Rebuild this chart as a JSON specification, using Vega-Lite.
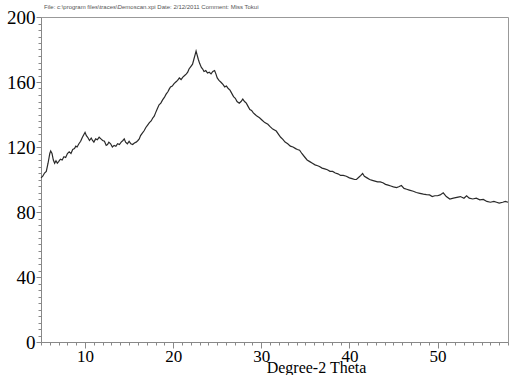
{
  "$schema": "https://vega.github.io/schema/vega-lite/v6.json",
  "width": 467,
  "height": 325,
  "autosize": {"type": "none"},
  "padding": {"left": 41, "top": 17, "right": 2, "bottom": 33},
  "background": "white",
  "title": {
    "text": "File: c:\\program files\\traces\\Demoscan.xpi   Date: 2/12/2011   Comment: Miss Tokui",
    "anchor": "start",
    "frame": "group",
    "font": "Liberation Sans",
    "fontSize": 6,
    "fontWeight": "normal",
    "color": "#555555",
    "offset": 5,
    "dx": 3,
    "dy": 7
  },
  "config": {"view": {"stroke": "#999999", "strokeWidth": 1}},
  "data": {
    "values": [
      {"theta": 5.0, "counts": 101}, {"theta": 5.2, "counts": 102}, {"theta": 5.4, "counts": 104}, {"theta": 5.6, "counts": 105},
      {"theta": 5.8, "counts": 110}, {"theta": 6.0, "counts": 116}, {"theta": 6.1, "counts": 117.5}, {"theta": 6.25, "counts": 116},
      {"theta": 6.4, "counts": 112}, {"theta": 6.55, "counts": 110}, {"theta": 6.7, "counts": 111.5}, {"theta": 6.85, "counts": 110},
      {"theta": 7.0, "counts": 111}, {"theta": 7.2, "counts": 112.5}, {"theta": 7.4, "counts": 112}, {"theta": 7.6, "counts": 114},
      {"theta": 7.8, "counts": 113.5}, {"theta": 8.0, "counts": 116}, {"theta": 8.2, "counts": 117}, {"theta": 8.4, "counts": 116},
      {"theta": 8.6, "counts": 118.5}, {"theta": 8.8, "counts": 119}, {"theta": 8.95, "counts": 120.5}, {"theta": 9.1, "counts": 120},
      {"theta": 9.3, "counts": 122}, {"theta": 9.5, "counts": 123.5}, {"theta": 9.7, "counts": 126}, {"theta": 9.9, "counts": 128},
      {"theta": 10.0, "counts": 129}, {"theta": 10.15, "counts": 127}, {"theta": 10.3, "counts": 126}, {"theta": 10.5, "counts": 124},
      {"theta": 10.7, "counts": 125.5}, {"theta": 10.85, "counts": 124}, {"theta": 11.0, "counts": 123}, {"theta": 11.2, "counts": 125},
      {"theta": 11.4, "counts": 124.5}, {"theta": 11.6, "counts": 126}, {"theta": 11.8, "counts": 125}, {"theta": 12.0, "counts": 124},
      {"theta": 12.2, "counts": 123.5}, {"theta": 12.4, "counts": 121}, {"theta": 12.55, "counts": 121.5}, {"theta": 12.7, "counts": 123},
      {"theta": 12.9, "counts": 122}, {"theta": 13.1, "counts": 120}, {"theta": 13.3, "counts": 121}, {"theta": 13.5, "counts": 120.5},
      {"theta": 13.7, "counts": 122}, {"theta": 13.9, "counts": 121.5}, {"theta": 14.1, "counts": 123}, {"theta": 14.3, "counts": 124},
      {"theta": 14.45, "counts": 125}, {"theta": 14.6, "counts": 123}, {"theta": 14.8, "counts": 122}, {"theta": 15.0, "counts": 123.5},
      {"theta": 15.2, "counts": 122}, {"theta": 15.4, "counts": 121.5}, {"theta": 15.6, "counts": 122.5}, {"theta": 15.8, "counts": 123},
      {"theta": 16.0, "counts": 124}, {"theta": 16.15, "counts": 125}, {"theta": 16.3, "counts": 127}, {"theta": 16.5, "counts": 128.5},
      {"theta": 16.7, "counts": 130}, {"theta": 16.9, "counts": 132}, {"theta": 17.1, "counts": 133.5}, {"theta": 17.3, "counts": 135},
      {"theta": 17.5, "counts": 136}, {"theta": 17.7, "counts": 138}, {"theta": 17.85, "counts": 139}, {"theta": 18.0, "counts": 141},
      {"theta": 18.2, "counts": 143.5}, {"theta": 18.4, "counts": 146}, {"theta": 18.6, "counts": 147}, {"theta": 18.8, "counts": 149},
      {"theta": 19.0, "counts": 150.5}, {"theta": 19.2, "counts": 152.5}, {"theta": 19.4, "counts": 154}, {"theta": 19.55, "counts": 155.6},
      {"theta": 19.7, "counts": 157}, {"theta": 19.9, "counts": 157.5}, {"theta": 20.1, "counts": 159}, {"theta": 20.3, "counts": 160},
      {"theta": 20.5, "counts": 161}, {"theta": 20.7, "counts": 162.5}, {"theta": 20.9, "counts": 161.5}, {"theta": 21.1, "counts": 163},
      {"theta": 21.3, "counts": 164}, {"theta": 21.5, "counts": 165}, {"theta": 21.65, "counts": 166}, {"theta": 21.8, "counts": 168},
      {"theta": 22.0, "counts": 169.5}, {"theta": 22.2, "counts": 171}, {"theta": 22.35, "counts": 174}, {"theta": 22.5, "counts": 177},
      {"theta": 22.6, "counts": 179}, {"theta": 22.7, "counts": 177}, {"theta": 22.85, "counts": 174}, {"theta": 23.0, "counts": 171.5},
      {"theta": 23.2, "counts": 169}, {"theta": 23.35, "counts": 168}, {"theta": 23.5, "counts": 166.5}, {"theta": 23.7, "counts": 167},
      {"theta": 23.9, "counts": 165.5}, {"theta": 24.1, "counts": 166}, {"theta": 24.3, "counts": 165}, {"theta": 24.5, "counts": 166.5},
      {"theta": 24.7, "counts": 167}, {"theta": 24.85, "counts": 165}, {"theta": 25.0, "counts": 162.5}, {"theta": 25.2, "counts": 161},
      {"theta": 25.45, "counts": 159.7}, {"theta": 25.65, "counts": 158.5}, {"theta": 25.85, "counts": 157}, {"theta": 26.05, "counts": 157.5},
      {"theta": 26.25, "counts": 156}, {"theta": 26.45, "counts": 155}, {"theta": 26.65, "counts": 153}, {"theta": 26.85, "counts": 151},
      {"theta": 27.05, "counts": 150}, {"theta": 27.25, "counts": 148}, {"theta": 27.5, "counts": 147}, {"theta": 27.7, "counts": 148},
      {"theta": 27.9, "counts": 149.5}, {"theta": 28.1, "counts": 148}, {"theta": 28.3, "counts": 147}, {"theta": 28.5, "counts": 145},
      {"theta": 28.7, "counts": 143}, {"theta": 28.9, "counts": 142.5}, {"theta": 29.1, "counts": 141}, {"theta": 29.3, "counts": 140},
      {"theta": 29.5, "counts": 139}, {"theta": 29.8, "counts": 138}, {"theta": 30.1, "counts": 136.5}, {"theta": 30.4, "counts": 135},
      {"theta": 30.75, "counts": 134}, {"theta": 31.0, "counts": 132.5}, {"theta": 31.3, "counts": 131}, {"theta": 31.7, "counts": 129.8},
      {"theta": 32.0, "counts": 127.5}, {"theta": 32.2, "counts": 126}, {"theta": 32.45, "counts": 124.7}, {"theta": 32.7, "counts": 123},
      {"theta": 33.0, "counts": 122}, {"theta": 33.3, "counts": 120.5}, {"theta": 33.6, "counts": 120}, {"theta": 33.9, "counts": 119},
      {"theta": 34.1, "counts": 118.5}, {"theta": 34.35, "counts": 118}, {"theta": 34.6, "counts": 116}, {"theta": 34.9, "counts": 114},
      {"theta": 35.2, "counts": 112}, {"theta": 35.5, "counts": 111}, {"theta": 35.8, "counts": 110}, {"theta": 36.1, "counts": 109},
      {"theta": 36.4, "counts": 108.5}, {"theta": 36.6, "counts": 108}, {"theta": 36.9, "counts": 107}, {"theta": 37.2, "counts": 106.5},
      {"theta": 37.5, "counts": 106}, {"theta": 37.8, "counts": 105}, {"theta": 38.1, "counts": 105}, {"theta": 38.4, "counts": 104},
      {"theta": 38.7, "counts": 103.5}, {"theta": 39.0, "counts": 102.5}, {"theta": 39.3, "counts": 102.5}, {"theta": 39.65, "counts": 102},
      {"theta": 40.0, "counts": 101}, {"theta": 40.3, "counts": 100.5}, {"theta": 40.6, "counts": 100}, {"theta": 40.8, "counts": 100},
      {"theta": 41.1, "counts": 101.5}, {"theta": 41.3, "counts": 102.5}, {"theta": 41.5, "counts": 103.7}, {"theta": 41.7, "counts": 102},
      {"theta": 42.0, "counts": 101}, {"theta": 42.3, "counts": 100}, {"theta": 42.6, "counts": 99.5}, {"theta": 42.9, "counts": 99},
      {"theta": 43.2, "counts": 98.5}, {"theta": 43.5, "counts": 98.5}, {"theta": 43.8, "counts": 98}, {"theta": 44.1, "counts": 97},
      {"theta": 44.4, "counts": 96.5}, {"theta": 44.7, "counts": 96}, {"theta": 45.0, "counts": 95.5}, {"theta": 45.35, "counts": 95},
      {"theta": 45.6, "counts": 95.5}, {"theta": 45.9, "counts": 96.3}, {"theta": 46.2, "counts": 94.5}, {"theta": 46.5, "counts": 94},
      {"theta": 46.8, "counts": 93.5}, {"theta": 47.25, "counts": 92.8}, {"theta": 47.6, "counts": 92}, {"theta": 48.0, "counts": 91.5},
      {"theta": 48.4, "counts": 91}, {"theta": 48.75, "counts": 90.7}, {"theta": 49.1, "counts": 90.5}, {"theta": 49.4, "counts": 89.5},
      {"theta": 49.7, "counts": 90}, {"theta": 50.0, "counts": 90}, {"theta": 50.3, "counts": 90.5}, {"theta": 50.65, "counts": 91.8},
      {"theta": 51.0, "counts": 89.5}, {"theta": 51.4, "counts": 88}, {"theta": 51.8, "counts": 88.5}, {"theta": 52.2, "counts": 89},
      {"theta": 52.6, "counts": 89.5}, {"theta": 53.0, "counts": 88.5}, {"theta": 53.3, "counts": 90}, {"theta": 53.6, "counts": 88.5},
      {"theta": 54.0, "counts": 88}, {"theta": 54.4, "counts": 88.5}, {"theta": 54.8, "counts": 87.5}, {"theta": 55.2, "counts": 87.7},
      {"theta": 55.6, "counts": 86.5}, {"theta": 56.0, "counts": 86}, {"theta": 56.4, "counts": 86.5}, {"theta": 56.7, "counts": 86},
      {"theta": 57.0, "counts": 85.5}, {"theta": 57.4, "counts": 86}, {"theta": 57.7, "counts": 86.5}, {"theta": 58.0, "counts": 86}
    ]
  },
  "mark": {"type": "line", "color": "#2a2a2a", "strokeWidth": 1.2},
  "encoding": {
    "x": {
      "field": "theta",
      "type": "quantitative",
      "scale": {"domain": [5, 58], "nice": false, "zero": false},
      "axis": {
        "values": [5,6,7,8,9,10,11,12,13,14,15,16,17,18,19,20,21,22,23,24,25,26,27,28,29,30,31,32,33,34,35,36,37,38,39,40,41,42,43,44,45,46,47,48,49,50,51,52,53,54,55,56,57,58],
        "labelExpr": "datum.value % 10 === 0 ? datum.label : ''",
        "labelOverlap": false,
        "labelFlush": false,
        "grid": false,
        "domainColor": "#888888",
        "tickColor": "#888888",
        "tickSize": {"condition": {"test": "datum.value % 10 === 0", "value": 6}, "value": 3},
        "labelFont": "Liberation Serif",
        "labelFontSize": 17,
        "labelColor": "#000000",
        "labelPadding": 0,
        "title": "Degree-2 Theta",
        "titleFont": "Liberation Serif",
        "titleFontSize": 16,
        "titleFontWeight": "normal",
        "titleColor": "#000000",
        "titleX": 275,
        "titleY": 30,
        "titleBaseline": "alphabetic"
      }
    },
    "y": {
      "field": "counts",
      "type": "quantitative",
      "scale": {"domain": [0, 200], "nice": false, "zero": true},
      "axis": {
        "values": [0,4,8,12,16,20,24,28,32,36,40,44,48,52,56,60,64,68,72,76,80,84,88,92,96,100,104,108,112,116,120,124,128,132,136,140,144,148,152,156,160,164,168,172,176,180,184,188,192,196,200],
        "labelExpr": "datum.value % 40 === 0 ? datum.label : ''",
        "labelOverlap": false,
        "labelFlush": false,
        "grid": false,
        "domainColor": "#888888",
        "tickColor": "#888888",
        "tickSize": {"condition": {"test": "datum.value % 40 === 0", "value": 5}, "value": 3},
        "labelFont": "Liberation Serif",
        "labelFontSize": 19,
        "labelColor": "#000000",
        "labelPadding": 1,
        "title": null
      }
    }
  }
}
